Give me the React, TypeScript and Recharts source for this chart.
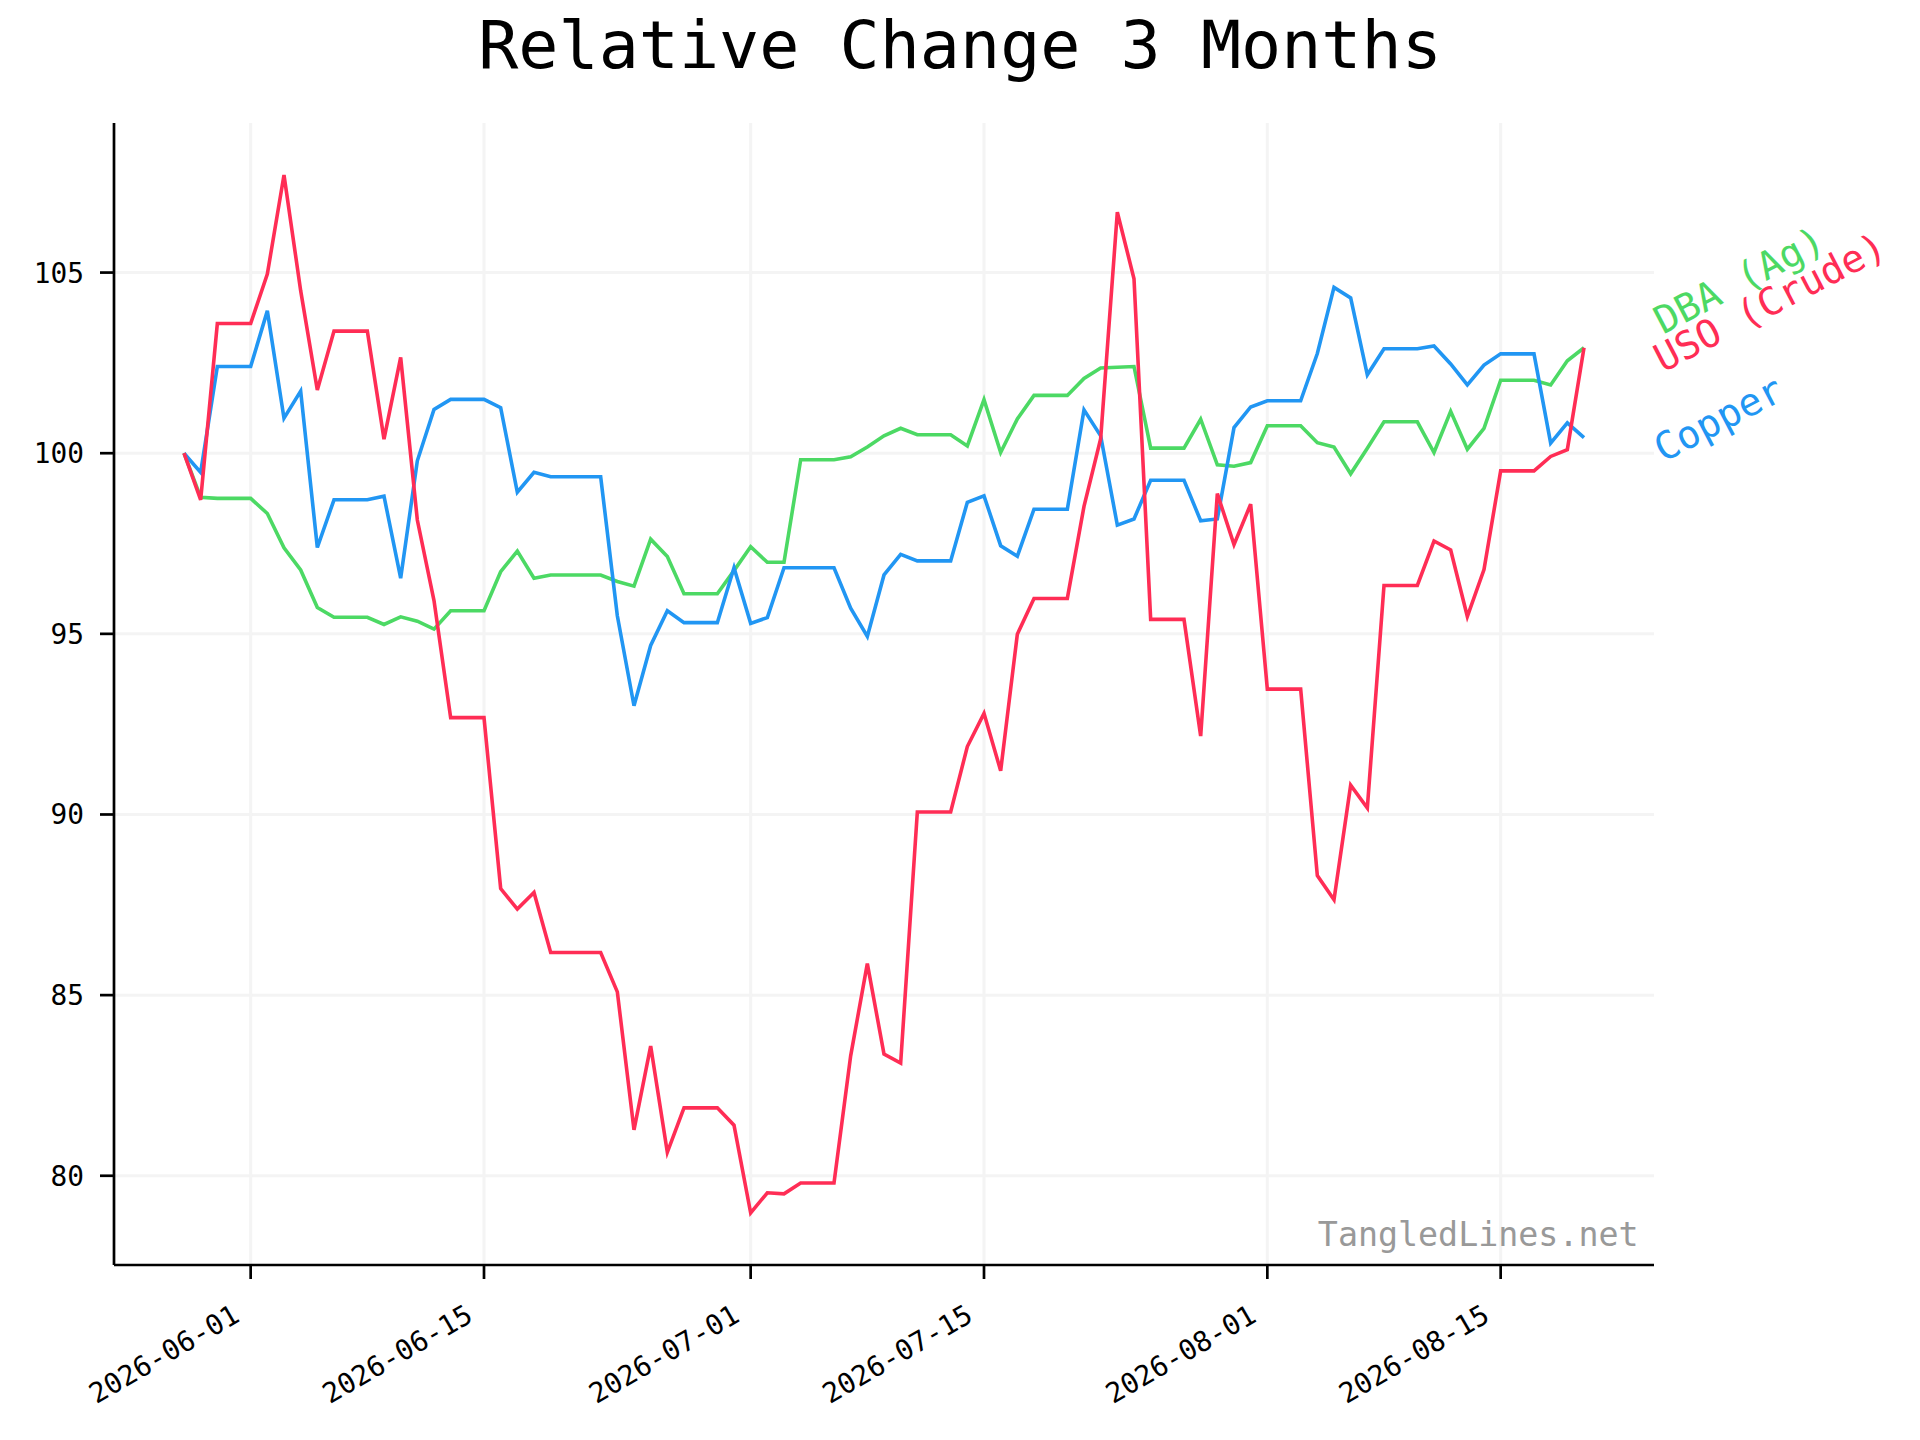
import React from 'react';
import { LineChart, Line, XAxis, YAxis, CartesianGrid, ReferenceDot } from 'recharts';

// ---------- data ----------
const START_DATE = '2026-05-28';

const USO_CRUDE = [
  100.0, 98.71, 103.59, 103.59, 103.59, 104.96, 107.7, 104.5, 101.75, 103.38,
  103.38, 103.38, 100.39, 102.65, 98.15, 95.92, 92.68, 92.68, 92.68, 87.95,
  87.38, 87.84, 86.18, 86.18, 86.18, 86.18, 85.09, 81.27, 83.59, 80.65,
  81.88, 81.88, 81.88, 81.4, 78.97, 79.53, 79.5, 79.8, 79.8, 79.8,
  83.32, 85.87, 83.37, 83.12, 90.07, 90.07, 90.07, 91.88, 92.8, 91.21,
  94.99, 95.98, 95.98, 95.98, 98.53, 100.4, 106.67, 104.83, 95.4, 95.4,
  95.4, 92.17, 98.88, 97.47, 98.59, 93.47, 93.47, 93.47, 88.31, 87.64,
  90.81, 90.18, 96.34, 96.34, 96.34, 97.57, 97.32, 95.48, 96.78, 99.51,
  99.51, 99.51, 99.91, 100.1, 102.92,
];

const COPPER = [
  100.0, 99.47, 102.4, 102.4, 102.4, 103.94, 100.97, 101.72, 97.39, 98.71,
  98.71, 98.71, 98.81, 96.54, 99.79, 101.21, 101.49, 101.49, 101.49, 101.26,
  98.92, 99.47, 99.35, 99.35, 99.35, 99.35, 95.5, 93.01, 94.68, 95.64,
  95.31, 95.31, 95.31, 96.83, 95.29, 95.45, 96.83, 96.83, 96.83, 96.83,
  95.71, 94.93, 96.63, 97.2, 97.02, 97.02, 97.02, 98.64, 98.82, 97.44,
  97.15, 98.45, 98.45, 98.45, 101.2, 100.48, 98.01, 98.18, 99.25, 99.25,
  99.25, 98.13, 98.18, 100.71, 101.28, 101.45, 101.45, 101.45, 102.76, 104.59,
  104.3, 102.17, 102.89, 102.89, 102.89, 102.97, 102.47, 101.89, 102.44, 102.75,
  102.75, 102.75, 100.28, 100.84, 100.43,
];

const DBA_AG = [
  100.0, 98.78, 98.75, 98.75, 98.75, 98.33, 97.38, 96.77, 95.73, 95.46,
  95.46, 95.46, 95.26, 95.47, 95.35, 95.13, 95.64, 95.64, 95.64, 96.72,
  97.29, 96.54, 96.63, 96.63, 96.63, 96.63, 96.45, 96.32, 97.62, 97.14,
  96.11, 96.11, 96.11, 96.75, 97.41, 96.98, 96.98, 99.82, 99.82, 99.82,
  99.9, 100.17, 100.48, 100.69, 100.51, 100.51, 100.51, 100.2, 101.48, 100.02,
  100.95, 101.6, 101.6, 101.6, 102.07, 102.36, 102.38, 102.4, 100.14, 100.14,
  100.14, 100.94, 99.68, 99.64, 99.74, 100.76, 100.76, 100.76, 100.29, 100.17,
  99.43, 100.14, 100.87, 100.87, 100.87, 100.02, 101.16, 100.11, 100.69, 102.02,
  102.02, 102.02, 101.89, 102.56, 102.92,
];

const X_TICK_LABELS = ['2026-06-01', '2026-06-15', '2026-07-01', '2026-07-15', '2026-08-01', '2026-08-15'];
const Y_TICKS = [80, 85, 90, 95, 100, 105];
const SERIES_LABELS = ['DBA (Ag)', 'USO (Crude)', 'Copper'];
const TITLE = 'Relative Change 3 Months';
const WATERMARK = 'TangledLines.net';

// ---------- derived table ----------
const DAY = 86400000;
const T0 = Date.parse(START_DATE + 'T00:00:00Z');
const data = USO_CRUDE.map((v, i) => ({
  t: T0 + i * DAY,
  uso: v,
  copper: COPPER[i],
  dba: DBA_AG[i],
}));
const N = USO_CRUDE.length;
const X_DOMAIN = [T0 - 0.05 * (N - 1) * DAY, T0 + (N - 1) * 1.05 * DAY];
const Y_DOMAIN = [77.53, 109.14];
const X_TICKS = X_TICK_LABELS.map((s) => Date.parse(s + 'T00:00:00Z'));

// ---------- layout & style ----------
const W = 1920;
const H = 1440;
const PLOT_LEFT = 114;
const PLOT_TOP = 123;
const PLOT_RIGHT = 1654;
const PLOT_BOTTOM = 1265;
const FONT = '"DejaVu Sans Mono", monospace';
const RED = '#FF2D55';
const BLUE = '#2196F3';
const GREEN = '#4CD964';
const AXIS_W = 2.7;

const fmtDate = (t: number) => new Date(t).toISOString().slice(0, 10);

const XTick = (props: any) => {
  const { x, payload } = props;
  const bx = x - 9.4;
  const by = PLOT_BOTTOM + 55.5;
  return (
    <text
      x={bx}
      y={by}
      textAnchor="end"
      transform={`rotate(-30, ${bx}, ${by})`}
      fontFamily={FONT}
      fontSize={27.8}
      fill="#000"
    >
      {fmtDate(payload.value)}
    </text>
  );
};

const YTick = (props: any) => {
  const { y, payload } = props;
  return (
    <text x={84} y={y} dy="0.36em" textAnchor="end" fontFamily={FONT} fontSize={27.8} fill="#000">
      {payload.value}
    </text>
  );
};

const makeEndLabel = (text: string, color: string, dy: number) => (props: any) => {
  const vb = props.viewBox || {};
  const cy = (vb.y ?? 0) + (vb.height ?? 0) / 2;
  const x0 = PLOT_RIGHT + 9;
  const y0 = cy + dy;
  return (
    <text
      x={x0}
      y={y0}
      transform={`rotate(-27.5, ${x0}, ${y0})`}
      fontFamily={FONT}
      fontSize={38.5}
      fill={color}
    >
      {text}
    </text>
  );
};

export default function App() {
  const last = data[N - 1];
  return (
    <div style={{ position: 'absolute', left: 0, top: 0, width: W, height: H, background: '#fff' }}>
      <LineChart
        width={W}
        height={H}
        data={data}
        margin={{ top: PLOT_TOP, right: W - PLOT_RIGHT, bottom: 0, left: 0 }}
      >
        <CartesianGrid stroke="#f4f4f4" strokeWidth={3} syncWithTicks />
        <XAxis
          dataKey="t"
          type="number"
          domain={X_DOMAIN}
          allowDataOverflow
          ticks={X_TICKS}
          interval={0}
          height={H - PLOT_BOTTOM}
          tickSize={14}
          axisLine={{ stroke: '#000', strokeWidth: AXIS_W }}
          tickLine={{ stroke: '#000', strokeWidth: AXIS_W }}
          tick={<XTick />}
        />
        <YAxis
          type="number"
          domain={Y_DOMAIN}
          allowDataOverflow
          ticks={Y_TICKS}
          interval={0}
          width={PLOT_LEFT}
          tickSize={14}
          axisLine={{ stroke: '#000', strokeWidth: AXIS_W }}
          tickLine={{ stroke: '#000', strokeWidth: AXIS_W }}
          tick={<YTick />}
        />
        <Line type="linear" dataKey="dba" stroke={GREEN} strokeWidth={3.6} dot={false} isAnimationActive={false} />
        <Line type="linear" dataKey="copper" stroke={BLUE} strokeWidth={3.6} dot={false} isAnimationActive={false} />
        <Line type="linear" dataKey="uso" stroke={RED} strokeWidth={3.6} dot={false} isAnimationActive={false} />
        <ReferenceDot
          x={last.t}
          y={last.dba}
          r={0}
          ifOverflow="visible"
          fill="none"
          stroke="none"
          label={makeEndLabel(SERIES_LABELS[0], GREEN, -13)}
        />
        <ReferenceDot
          x={last.t}
          y={last.uso}
          r={0}
          ifOverflow="visible"
          fill="none"
          stroke="none"
          label={makeEndLabel(SERIES_LABELS[1], RED, 25)}
        />
        <ReferenceDot
          x={last.t}
          y={last.copper}
          r={0}
          ifOverflow="visible"
          fill="none"
          stroke="none"
          label={makeEndLabel(SERIES_LABELS[2], BLUE, 25)}
        />
      </LineChart>
      <svg
        width={W}
        height={H}
        style={{ position: 'absolute', left: 0, top: 0, pointerEvents: 'none' }}
      >
        <text x={960} y={68} textAnchor="middle" fontFamily={FONT} fontSize={66.7} fill="#000">
          {TITLE}
        </text>
        <text x={1638.6} y={1246} textAnchor="end" fontFamily={FONT} fontSize={33.3} fill="#999999">
          {WATERMARK}
        </text>
      </svg>
    </div>
  );
}
